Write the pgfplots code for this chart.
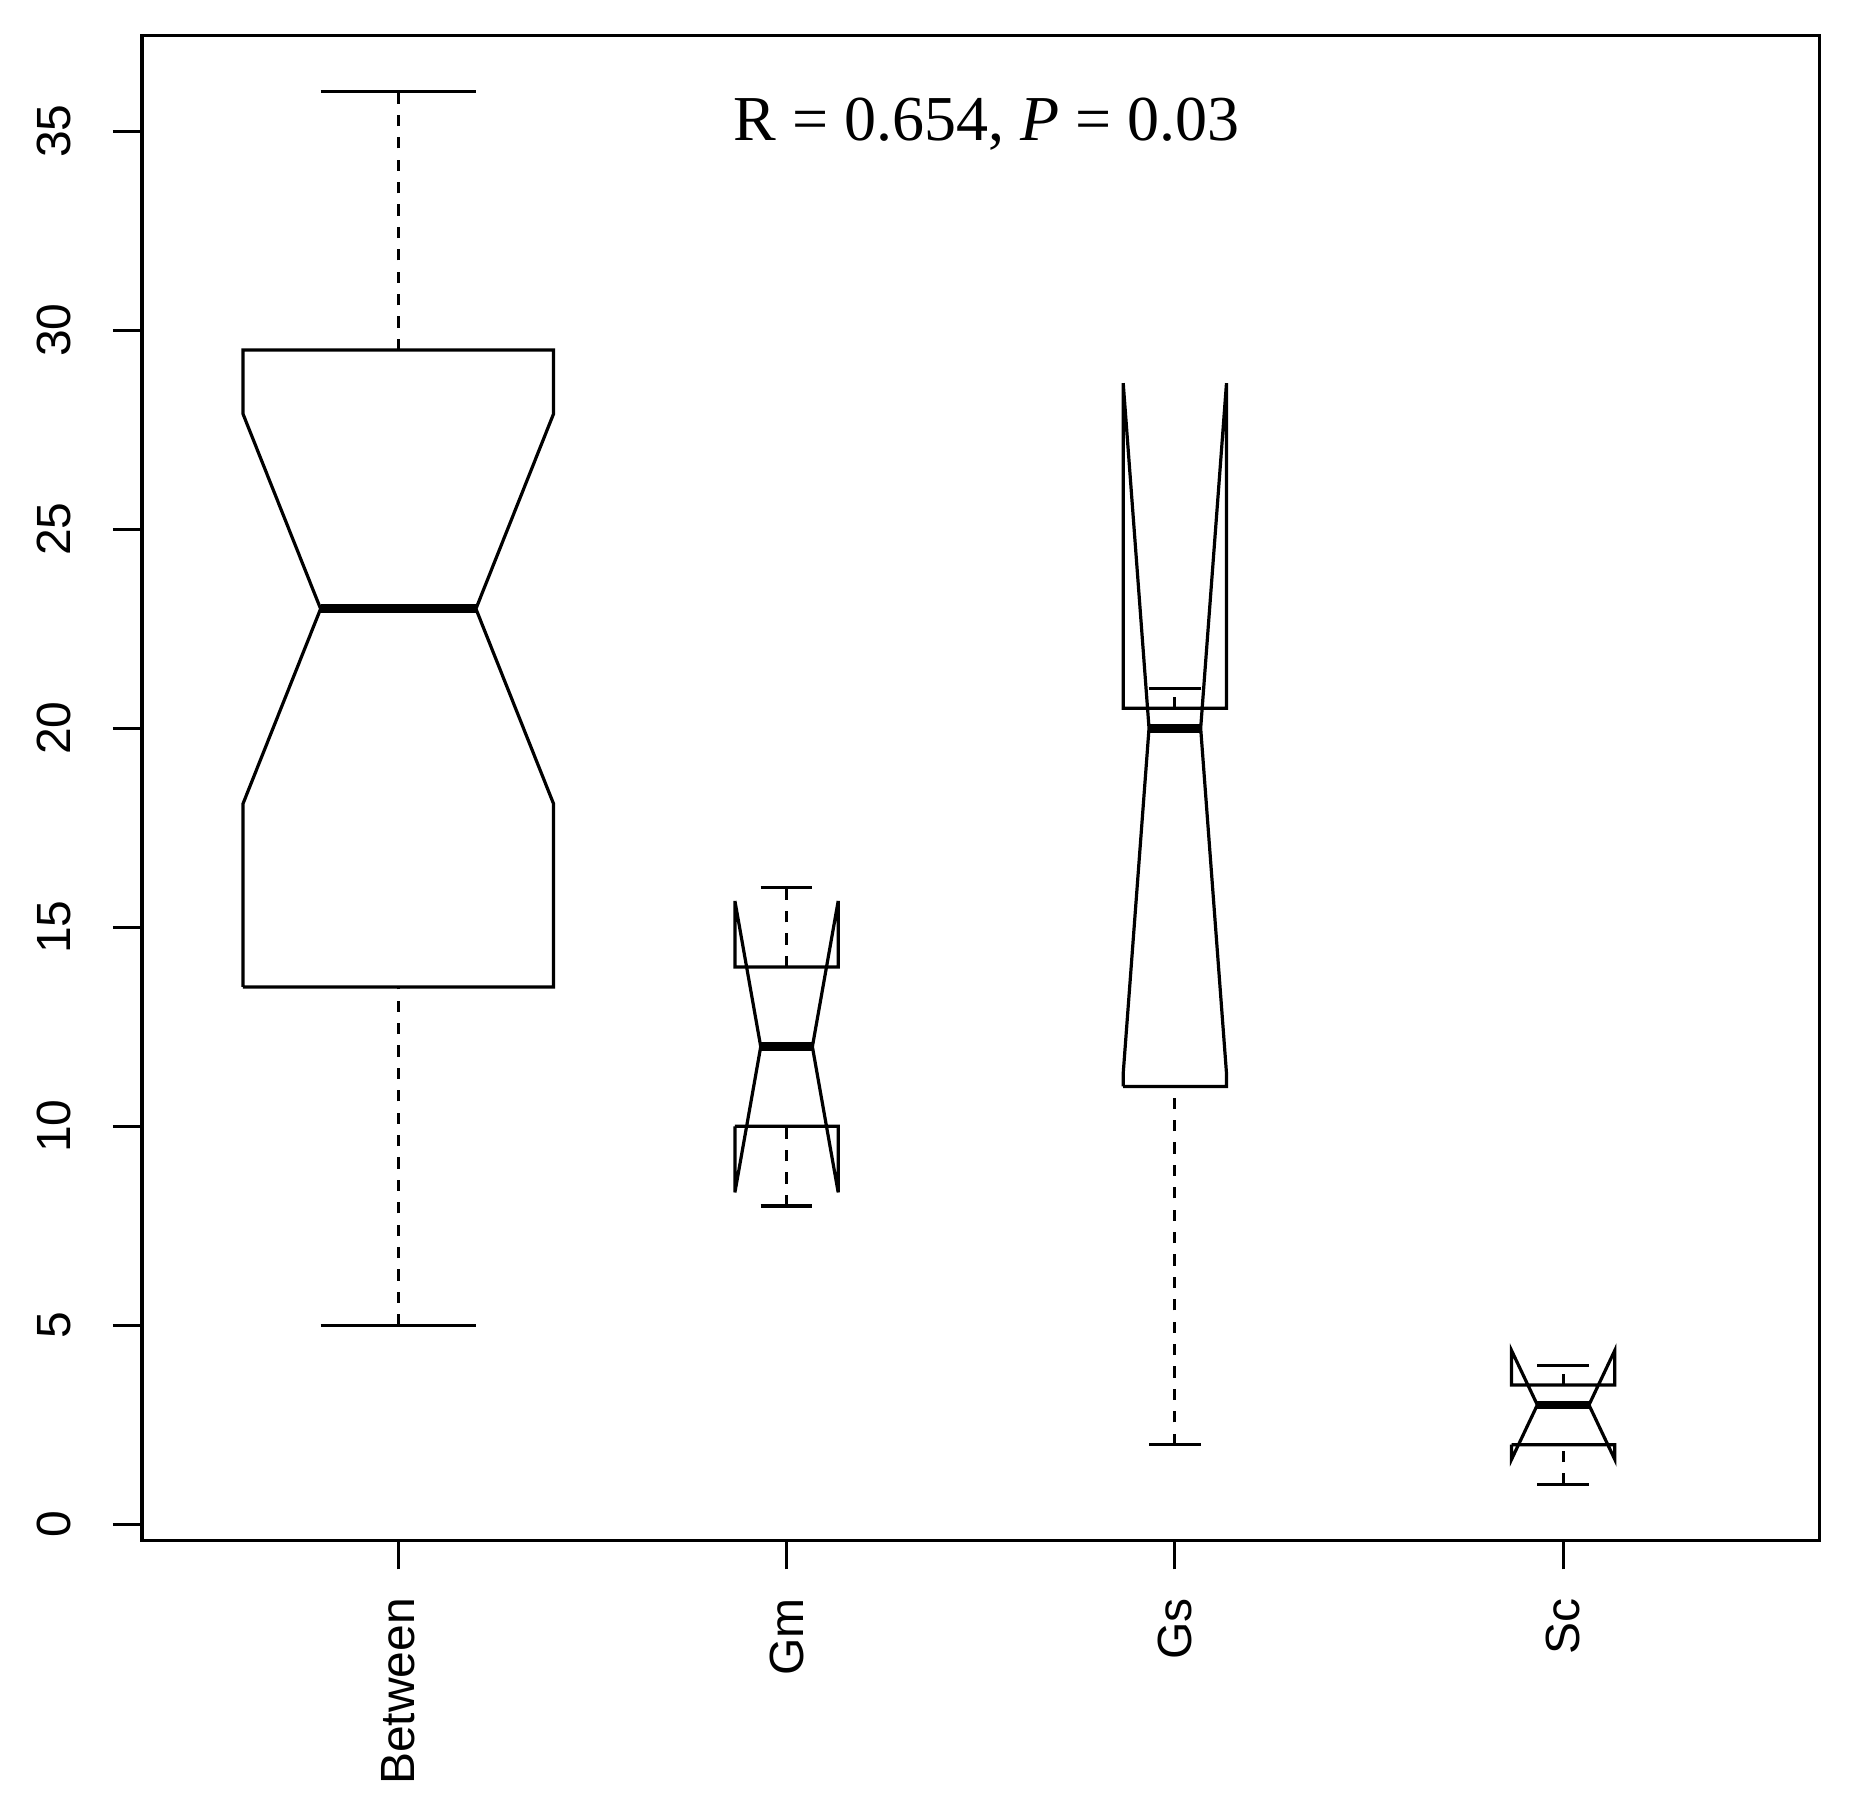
\documentclass[border=0pt]{standalone}
\usepackage{pgfplots}
\pgfplotsset{compat=1.18}
\usepackage{fontspec}
\setmainfont{Liberation Sans}
\newfontfamily\rserif{Liberation Serif}

\begin{document}
\begin{tikzpicture}
\begin{axis}[
    scale only axis,
    width=419.4pt, height=376.2pt,
    xmin=0.34, xmax=4.66,
    ymin=-0.4, ymax=37.4,
    xtick={1,2,3,4},
    xticklabels={Between,Gm,Gs,Sc},
    ytick={0,5,...,35},
    xtick pos=bottom, ytick pos=left,
    tick align=outside,
    major tick length=7.25pt,
    tick style={black, line width=0.75pt},
    axis line style={black, line width=0.8pt},
    /pgf/number format/assume math mode=true,
    xticklabel style={rotate=90, anchor=east, inner sep=0pt, font=\fontsize{12}{14}\selectfont},
    yticklabel style={rotate=90, anchor=south, inner sep=0pt, font=\fontsize{12}{14}\selectfont},
    xticklabel shift=7pt,
    yticklabel shift=10.3pt,
    clip=false,
    box/.style={black, line width=0.8pt, line join=miter},
    whisk/.style={black, line width=0.8pt, dash pattern=on 2.8pt off 2.8pt},
    cap/.style={black, line width=0.8pt},
    med/.style={black, line width=2.2pt},
]
% Between
\addplot[whisk] coordinates {(1,5) (1,13.5)};
\addplot[whisk] coordinates {(1,29.5) (1,36)};
\addplot[cap] coordinates {(0.8,5) (1.2,5)};
\addplot[cap] coordinates {(0.8,36) (1.2,36)};
\addplot[box] coordinates {(0.6,13.5) (0.6,18.1) (0.8,23) (0.6,27.9) (0.6,29.5) (1.4,29.5) (1.4,27.9) (1.2,23) (1.4,18.1) (1.4,13.5) (0.6,13.5)};
\addplot[med] coordinates {(0.8,23) (1.2,23)};

% Gm
\addplot[whisk] coordinates {(2,8) (2,10)};
\addplot[whisk] coordinates {(2,14) (2,16)};
\addplot[cap] coordinates {(1.9335,8) (2.0665,8)};
\addplot[cap] coordinates {(1.9335,16) (2.0665,16)};
\addplot[box] coordinates {(1.867,10) (1.867,8.34) (1.9335,12) (1.867,15.66) (1.867,14) (2.133,14) (2.133,15.66) (2.0665,12) (2.133,8.34) (2.133,10) (1.867,10)};
\addplot[med] coordinates {(1.9335,12) (2.0665,12)};

% Gs
\addplot[whisk] coordinates {(3,2) (3,11)};
\addplot[whisk] coordinates {(3,20.5) (3,21)};
\addplot[cap] coordinates {(2.9335,2) (3.0665,2)};
\addplot[cap] coordinates {(2.9335,21) (3.0665,21)};
\addplot[box] coordinates {(2.867,11) (2.867,11.33) (2.9335,20) (2.867,28.67) (2.867,20.5) (3.133,20.5) (3.133,28.67) (3.0665,20) (3.133,11.33) (3.133,11) (2.867,11)};
\addplot[med] coordinates {(2.9335,20) (3.0665,20)};

% Sc
\addplot[whisk] coordinates {(4,1) (4,2)};
\addplot[whisk] coordinates {(4,3.5) (4,4)};
\addplot[cap] coordinates {(3.9335,1) (4.0665,1)};
\addplot[cap] coordinates {(3.9335,4) (4.0665,4)};
\addplot[box] coordinates {(3.867,2) (3.867,1.63) (3.9335,3) (3.867,4.37) (3.867,3.5) (4.133,3.5) (4.133,4.37) (4.0665,3) (4.133,1.63) (4.133,2) (3.867,2)};
\addplot[med] coordinates {(3.9335,3) (4.0665,3)};

\node[anchor=base, font=\rserif\fontsize{16}{19}\selectfont] at (axis cs:2.516,34.76) {R = 0.654, \textit{P} = 0.03};
\end{axis}
\path (current axis.south west) ++(-35.5pt,-65.9pt);
\path (current axis.north east) ++(8.9pt,8.9pt);
\end{tikzpicture}
\end{document}
